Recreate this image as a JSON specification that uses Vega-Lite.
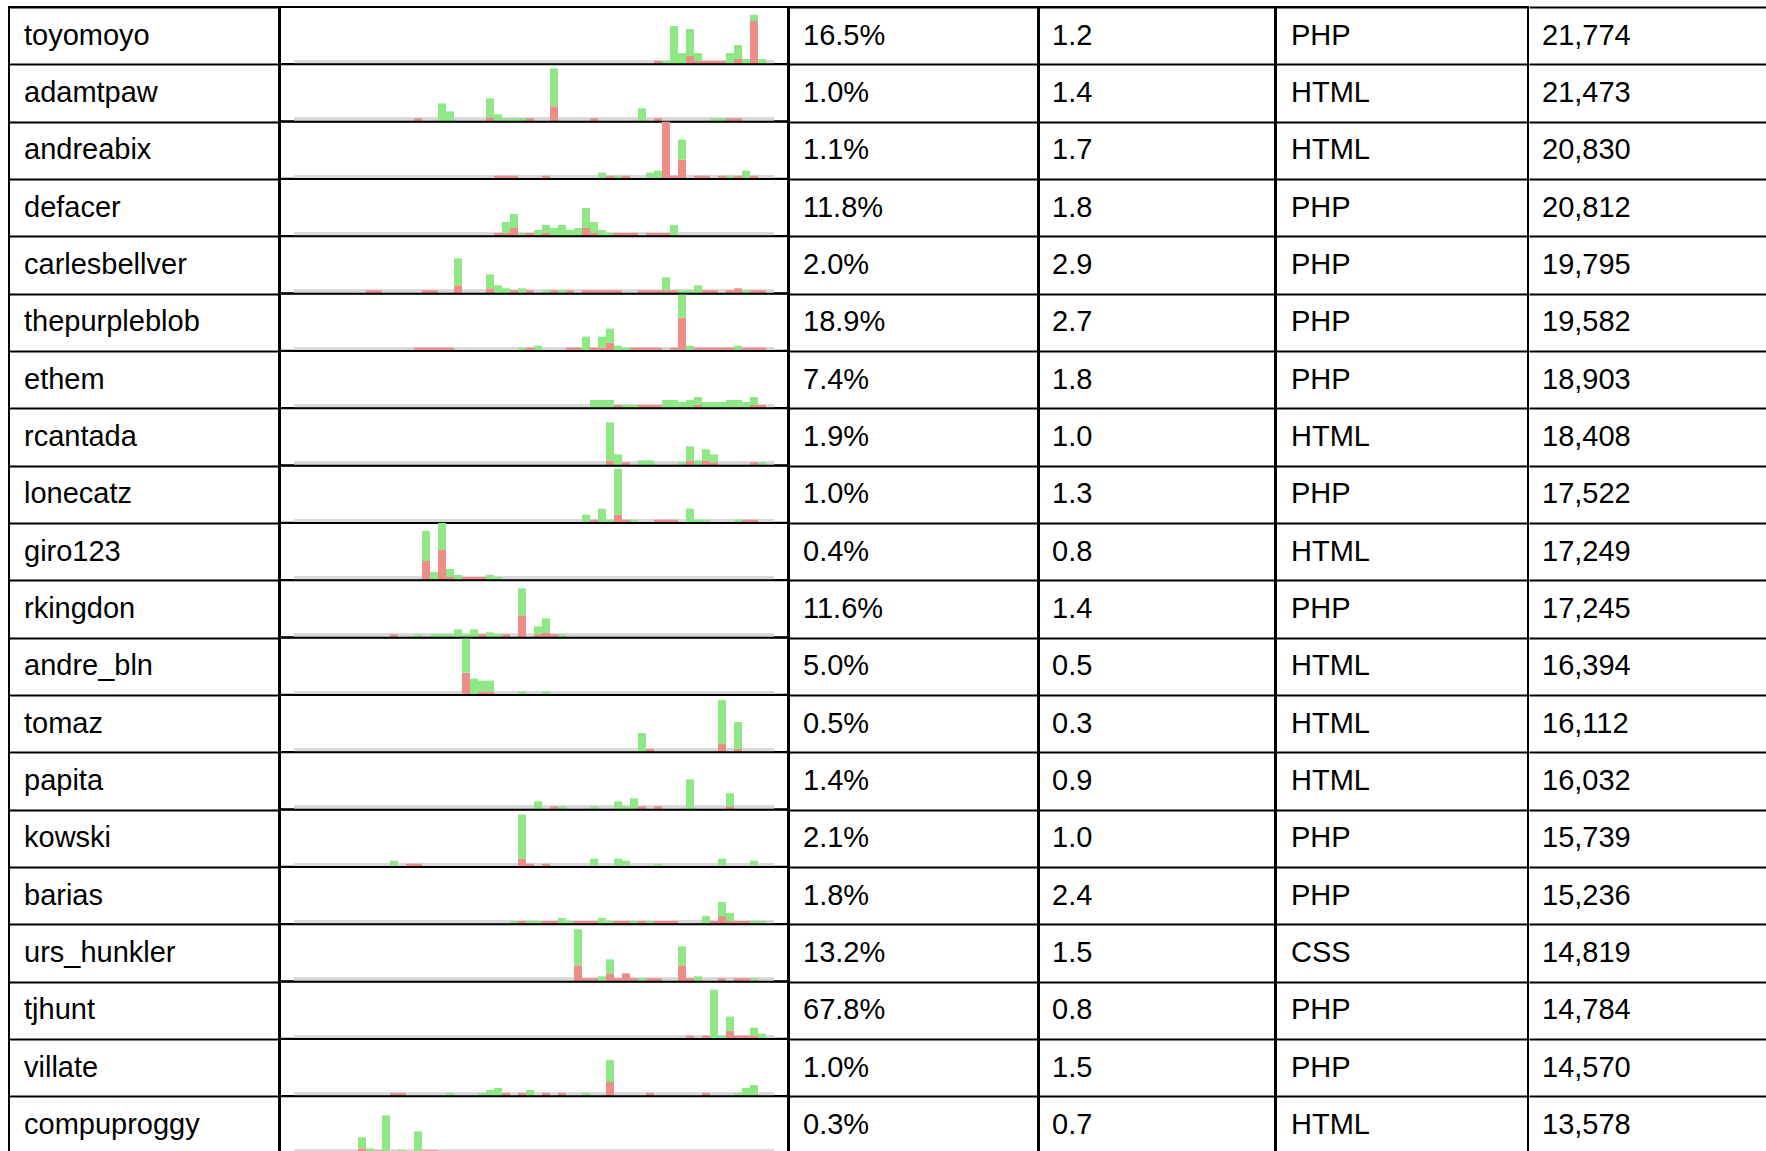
{
"$schema": "https://vega.github.io/schema/vega-lite/v6.json",
"padding": {"left": 8, "top": 6, "right": 0, "bottom": 0},
"background": "white",
"bounds": "full",
"spacing": -2,
"datasets": {
"rows": [
{"name":"toyomoyo","pct":0.165,"rate":1.2,"lang":"PHP","count":21774},
{"name":"adamtpaw","pct":0.010,"rate":1.4,"lang":"HTML","count":21473},
{"name":"andreabix","pct":0.011,"rate":1.7,"lang":"HTML","count":20830},
{"name":"defacer","pct":0.118,"rate":1.8,"lang":"PHP","count":20812},
{"name":"carlesbellver","pct":0.020,"rate":2.9,"lang":"PHP","count":19795},
{"name":"thepurpleblob","pct":0.189,"rate":2.7,"lang":"PHP","count":19582},
{"name":"ethem","pct":0.074,"rate":1.8,"lang":"PHP","count":18903},
{"name":"rcantada","pct":0.019,"rate":1.0,"lang":"HTML","count":18408},
{"name":"lonecatz","pct":0.010,"rate":1.3,"lang":"PHP","count":17522},
{"name":"giro123","pct":0.004,"rate":0.8,"lang":"HTML","count":17249},
{"name":"rkingdon","pct":0.116,"rate":1.4,"lang":"PHP","count":17245},
{"name":"andre_bln","pct":0.050,"rate":0.5,"lang":"HTML","count":16394},
{"name":"tomaz","pct":0.005,"rate":0.3,"lang":"HTML","count":16112},
{"name":"papita","pct":0.014,"rate":0.9,"lang":"HTML","count":16032},
{"name":"kowski","pct":0.021,"rate":1.0,"lang":"PHP","count":15739},
{"name":"barias","pct":0.018,"rate":2.4,"lang":"PHP","count":15236},
{"name":"urs_hunkler","pct":0.132,"rate":1.5,"lang":"CSS","count":14819},
{"name":"tjhunt","pct":0.678,"rate":0.8,"lang":"PHP","count":14784},
{"name":"villate","pct":0.010,"rate":1.5,"lang":"PHP","count":14570},
{"name":"compuproggy","pct":0.003,"rate":0.7,"lang":"HTML","count":13578}
],
"bars": [
{"name":"toyomoyo","bin":45,"series":"failed","value":3},
{"name":"toyomoyo","bin":46,"series":"passed","value":3},
{"name":"toyomoyo","bin":47,"series":"passed","value":38},
{"name":"toyomoyo","bin":48,"series":"passed","value":11},
{"name":"toyomoyo","bin":49,"series":"failed","value":8},
{"name":"toyomoyo","bin":49,"series":"passed","value":27},
{"name":"toyomoyo","bin":50,"series":"failed","value":3},
{"name":"toyomoyo","bin":50,"series":"passed","value":8},
{"name":"toyomoyo","bin":51,"series":"failed","value":3},
{"name":"toyomoyo","bin":52,"series":"failed","value":3},
{"name":"toyomoyo","bin":53,"series":"failed","value":3},
{"name":"toyomoyo","bin":54,"series":"passed","value":11},
{"name":"toyomoyo","bin":55,"series":"failed","value":5},
{"name":"toyomoyo","bin":55,"series":"passed","value":14},
{"name":"toyomoyo","bin":56,"series":"passed","value":5},
{"name":"toyomoyo","bin":57,"series":"failed","value":43},
{"name":"toyomoyo","bin":57,"series":"passed","value":6},
{"name":"toyomoyo","bin":58,"series":"passed","value":5},

{"name":"adamtpaw","bin":15,"series":"failed","value":3},
{"name":"adamtpaw","bin":18,"series":"passed","value":18},
{"name":"adamtpaw","bin":19,"series":"passed","value":10},
{"name":"adamtpaw","bin":24,"series":"failed","value":4},
{"name":"adamtpaw","bin":24,"series":"passed","value":19},
{"name":"adamtpaw","bin":25,"series":"passed","value":7},
{"name":"adamtpaw","bin":26,"series":"passed","value":3},
{"name":"adamtpaw","bin":27,"series":"passed","value":3},
{"name":"adamtpaw","bin":28,"series":"passed","value":3},
{"name":"adamtpaw","bin":29,"series":"failed","value":3},
{"name":"adamtpaw","bin":32,"series":"failed","value":15},
{"name":"adamtpaw","bin":32,"series":"passed","value":38},
{"name":"adamtpaw","bin":37,"series":"failed","value":3},
{"name":"adamtpaw","bin":43,"series":"passed","value":13},
{"name":"adamtpaw","bin":45,"series":"failed","value":3},
{"name":"adamtpaw","bin":52,"series":"passed","value":3},
{"name":"adamtpaw","bin":53,"series":"passed","value":3},
{"name":"adamtpaw","bin":54,"series":"failed","value":3},
{"name":"adamtpaw","bin":55,"series":"failed","value":3},

{"name":"andreabix","bin":25,"series":"failed","value":3},
{"name":"andreabix","bin":26,"series":"failed","value":3},
{"name":"andreabix","bin":27,"series":"failed","value":3},
{"name":"andreabix","bin":31,"series":"failed","value":3},
{"name":"andreabix","bin":38,"series":"passed","value":6},
{"name":"andreabix","bin":39,"series":"failed","value":3},
{"name":"andreabix","bin":40,"series":"passed","value":3},
{"name":"andreabix","bin":41,"series":"failed","value":3},
{"name":"andreabix","bin":44,"series":"passed","value":6},
{"name":"andreabix","bin":45,"series":"passed","value":8},
{"name":"andreabix","bin":46,"series":"failed","value":57},
{"name":"andreabix","bin":47,"series":"failed","value":3},
{"name":"andreabix","bin":48,"series":"failed","value":19},
{"name":"andreabix","bin":48,"series":"passed","value":20},
{"name":"andreabix","bin":50,"series":"failed","value":3},
{"name":"andreabix","bin":51,"series":"failed","value":3},
{"name":"andreabix","bin":53,"series":"failed","value":3},
{"name":"andreabix","bin":54,"series":"passed","value":3},
{"name":"andreabix","bin":55,"series":"failed","value":3},
{"name":"andreabix","bin":56,"series":"passed","value":8},
{"name":"andreabix","bin":57,"series":"failed","value":3},

{"name":"defacer","bin":25,"series":"failed","value":3},
{"name":"defacer","bin":26,"series":"failed","value":3},
{"name":"defacer","bin":26,"series":"passed","value":11},
{"name":"defacer","bin":27,"series":"failed","value":8},
{"name":"defacer","bin":27,"series":"passed","value":14},
{"name":"defacer","bin":28,"series":"passed","value":3},
{"name":"defacer","bin":29,"series":"failed","value":3},
{"name":"defacer","bin":30,"series":"passed","value":6},
{"name":"defacer","bin":31,"series":"failed","value":3},
{"name":"defacer","bin":31,"series":"passed","value":8},
{"name":"defacer","bin":32,"series":"passed","value":8},
{"name":"defacer","bin":33,"series":"passed","value":11},
{"name":"defacer","bin":34,"series":"passed","value":6},
{"name":"defacer","bin":35,"series":"passed","value":8},
{"name":"defacer","bin":36,"series":"failed","value":8},
{"name":"defacer","bin":36,"series":"passed","value":20},
{"name":"defacer","bin":37,"series":"failed","value":3},
{"name":"defacer","bin":37,"series":"passed","value":11},
{"name":"defacer","bin":38,"series":"passed","value":6},
{"name":"defacer","bin":39,"series":"passed","value":3},
{"name":"defacer","bin":40,"series":"failed","value":3},
{"name":"defacer","bin":41,"series":"failed","value":3},
{"name":"defacer","bin":42,"series":"failed","value":3},
{"name":"defacer","bin":44,"series":"failed","value":3},
{"name":"defacer","bin":45,"series":"failed","value":3},
{"name":"defacer","bin":46,"series":"failed","value":3},
{"name":"defacer","bin":47,"series":"passed","value":11},

{"name":"carlesbellver","bin":9,"series":"failed","value":3},
{"name":"carlesbellver","bin":10,"series":"failed","value":3},
{"name":"carlesbellver","bin":16,"series":"failed","value":3},
{"name":"carlesbellver","bin":17,"series":"failed","value":3},
{"name":"carlesbellver","bin":20,"series":"failed","value":8},
{"name":"carlesbellver","bin":20,"series":"passed","value":27},
{"name":"carlesbellver","bin":24,"series":"failed","value":5},
{"name":"carlesbellver","bin":24,"series":"passed","value":14},
{"name":"carlesbellver","bin":25,"series":"passed","value":8},
{"name":"carlesbellver","bin":26,"series":"passed","value":5},
{"name":"carlesbellver","bin":27,"series":"failed","value":3},
{"name":"carlesbellver","bin":28,"series":"passed","value":5},
{"name":"carlesbellver","bin":29,"series":"failed","value":3},
{"name":"carlesbellver","bin":31,"series":"passed","value":3},
{"name":"carlesbellver","bin":32,"series":"failed","value":3},
{"name":"carlesbellver","bin":33,"series":"passed","value":3},
{"name":"carlesbellver","bin":34,"series":"failed","value":3},
{"name":"carlesbellver","bin":36,"series":"failed","value":3},
{"name":"carlesbellver","bin":37,"series":"failed","value":3},
{"name":"carlesbellver","bin":38,"series":"failed","value":3},
{"name":"carlesbellver","bin":39,"series":"failed","value":3},
{"name":"carlesbellver","bin":40,"series":"failed","value":3},
{"name":"carlesbellver","bin":43,"series":"failed","value":3},
{"name":"carlesbellver","bin":44,"series":"failed","value":3},
{"name":"carlesbellver","bin":45,"series":"failed","value":3},
{"name":"carlesbellver","bin":46,"series":"failed","value":3},
{"name":"carlesbellver","bin":46,"series":"passed","value":13},
{"name":"carlesbellver","bin":47,"series":"failed","value":3},
{"name":"carlesbellver","bin":48,"series":"passed","value":3},
{"name":"carlesbellver","bin":49,"series":"passed","value":3},
{"name":"carlesbellver","bin":50,"series":"passed","value":8},
{"name":"carlesbellver","bin":51,"series":"failed","value":3},
{"name":"carlesbellver","bin":52,"series":"failed","value":3},
{"name":"carlesbellver","bin":54,"series":"failed","value":3},
{"name":"carlesbellver","bin":55,"series":"failed","value":5},
{"name":"carlesbellver","bin":56,"series":"passed","value":3},
{"name":"carlesbellver","bin":57,"series":"failed","value":3},
{"name":"carlesbellver","bin":58,"series":"failed","value":3},

{"name":"thepurpleblob","bin":15,"series":"failed","value":3},
{"name":"thepurpleblob","bin":16,"series":"failed","value":3},
{"name":"thepurpleblob","bin":17,"series":"failed","value":3},
{"name":"thepurpleblob","bin":18,"series":"failed","value":3},
{"name":"thepurpleblob","bin":19,"series":"failed","value":3},
{"name":"thepurpleblob","bin":28,"series":"passed","value":3},
{"name":"thepurpleblob","bin":29,"series":"failed","value":3},
{"name":"thepurpleblob","bin":30,"series":"passed","value":5},
{"name":"thepurpleblob","bin":34,"series":"failed","value":3},
{"name":"thepurpleblob","bin":35,"series":"failed","value":3},
{"name":"thepurpleblob","bin":36,"series":"passed","value":14},
{"name":"thepurpleblob","bin":37,"series":"failed","value":3},
{"name":"thepurpleblob","bin":38,"series":"failed","value":3},
{"name":"thepurpleblob","bin":38,"series":"passed","value":11},
{"name":"thepurpleblob","bin":39,"series":"failed","value":8},
{"name":"thepurpleblob","bin":39,"series":"passed","value":14},
{"name":"thepurpleblob","bin":40,"series":"passed","value":5},
{"name":"thepurpleblob","bin":41,"series":"passed","value":3},
{"name":"thepurpleblob","bin":42,"series":"failed","value":3},
{"name":"thepurpleblob","bin":43,"series":"failed","value":3},
{"name":"thepurpleblob","bin":44,"series":"failed","value":3},
{"name":"thepurpleblob","bin":45,"series":"failed","value":3},
{"name":"thepurpleblob","bin":47,"series":"failed","value":3},
{"name":"thepurpleblob","bin":48,"series":"failed","value":33},
{"name":"thepurpleblob","bin":48,"series":"passed","value":23},
{"name":"thepurpleblob","bin":49,"series":"passed","value":5},
{"name":"thepurpleblob","bin":50,"series":"failed","value":3},
{"name":"thepurpleblob","bin":51,"series":"failed","value":3},
{"name":"thepurpleblob","bin":52,"series":"failed","value":3},
{"name":"thepurpleblob","bin":53,"series":"failed","value":3},
{"name":"thepurpleblob","bin":54,"series":"failed","value":3},
{"name":"thepurpleblob","bin":55,"series":"passed","value":5},
{"name":"thepurpleblob","bin":56,"series":"failed","value":3},
{"name":"thepurpleblob","bin":57,"series":"failed","value":3},
{"name":"thepurpleblob","bin":58,"series":"failed","value":3},

{"name":"ethem","bin":37,"series":"passed","value":8},
{"name":"ethem","bin":38,"series":"passed","value":8},
{"name":"ethem","bin":39,"series":"passed","value":8},
{"name":"ethem","bin":40,"series":"failed","value":3},
{"name":"ethem","bin":41,"series":"passed","value":3},
{"name":"ethem","bin":42,"series":"passed","value":3},
{"name":"ethem","bin":43,"series":"failed","value":3},
{"name":"ethem","bin":44,"series":"failed","value":3},
{"name":"ethem","bin":45,"series":"failed","value":3},
{"name":"ethem","bin":46,"series":"passed","value":8},
{"name":"ethem","bin":47,"series":"passed","value":8},
{"name":"ethem","bin":48,"series":"passed","value":6},
{"name":"ethem","bin":49,"series":"passed","value":8},
{"name":"ethem","bin":50,"series":"failed","value":3},
{"name":"ethem","bin":50,"series":"passed","value":8},
{"name":"ethem","bin":51,"series":"passed","value":6},
{"name":"ethem","bin":52,"series":"passed","value":6},
{"name":"ethem","bin":53,"series":"passed","value":6},
{"name":"ethem","bin":54,"series":"passed","value":8},
{"name":"ethem","bin":55,"series":"passed","value":8},
{"name":"ethem","bin":56,"series":"passed","value":6},
{"name":"ethem","bin":57,"series":"failed","value":3},
{"name":"ethem","bin":57,"series":"passed","value":8},
{"name":"ethem","bin":58,"series":"failed","value":3},

{"name":"rcantada","bin":39,"series":"failed","value":5},
{"name":"rcantada","bin":39,"series":"passed","value":38},
{"name":"rcantada","bin":40,"series":"passed","value":11},
{"name":"rcantada","bin":41,"series":"failed","value":3},
{"name":"rcantada","bin":43,"series":"passed","value":5},
{"name":"rcantada","bin":44,"series":"passed","value":5},
{"name":"rcantada","bin":48,"series":"passed","value":3},
{"name":"rcantada","bin":49,"series":"failed","value":5},
{"name":"rcantada","bin":49,"series":"passed","value":14},
{"name":"rcantada","bin":50,"series":"passed","value":5},
{"name":"rcantada","bin":51,"series":"failed","value":5},
{"name":"rcantada","bin":51,"series":"passed","value":11},
{"name":"rcantada","bin":52,"series":"failed","value":3},
{"name":"rcantada","bin":52,"series":"passed","value":8},
{"name":"rcantada","bin":57,"series":"failed","value":3},
{"name":"rcantada","bin":58,"series":"passed","value":3},

{"name":"lonecatz","bin":36,"series":"passed","value":8},
{"name":"lonecatz","bin":37,"series":"failed","value":3},
{"name":"lonecatz","bin":38,"series":"passed","value":14},
{"name":"lonecatz","bin":39,"series":"passed","value":3},
{"name":"lonecatz","bin":40,"series":"failed","value":8},
{"name":"lonecatz","bin":40,"series":"passed","value":46},
{"name":"lonecatz","bin":41,"series":"failed","value":3},
{"name":"lonecatz","bin":42,"series":"passed","value":3},
{"name":"lonecatz","bin":45,"series":"failed","value":3},
{"name":"lonecatz","bin":46,"series":"failed","value":3},
{"name":"lonecatz","bin":47,"series":"failed","value":3},
{"name":"lonecatz","bin":49,"series":"passed","value":14},
{"name":"lonecatz","bin":50,"series":"passed","value":3},
{"name":"lonecatz","bin":51,"series":"passed","value":3},
{"name":"lonecatz","bin":55,"series":"passed","value":3},
{"name":"lonecatz","bin":56,"series":"failed","value":3},
{"name":"lonecatz","bin":57,"series":"failed","value":3},

{"name":"giro123","bin":16,"series":"failed","value":19},
{"name":"giro123","bin":16,"series":"passed","value":30},
{"name":"giro123","bin":17,"series":"passed","value":8},
{"name":"giro123","bin":18,"series":"failed","value":30},
{"name":"giro123","bin":18,"series":"passed","value":27},
{"name":"giro123","bin":19,"series":"failed","value":3},
{"name":"giro123","bin":19,"series":"passed","value":8},
{"name":"giro123","bin":20,"series":"passed","value":5},
{"name":"giro123","bin":21,"series":"failed","value":3},
{"name":"giro123","bin":22,"series":"failed","value":3},
{"name":"giro123","bin":23,"series":"failed","value":3},
{"name":"giro123","bin":24,"series":"passed","value":5},
{"name":"giro123","bin":25,"series":"passed","value":3},

{"name":"rkingdon","bin":12,"series":"failed","value":3},
{"name":"rkingdon","bin":15,"series":"passed","value":3},
{"name":"rkingdon","bin":17,"series":"passed","value":3},
{"name":"rkingdon","bin":18,"series":"passed","value":3},
{"name":"rkingdon","bin":19,"series":"passed","value":3},
{"name":"rkingdon","bin":20,"series":"passed","value":8},
{"name":"rkingdon","bin":21,"series":"passed","value":3},
{"name":"rkingdon","bin":22,"series":"passed","value":8},
{"name":"rkingdon","bin":23,"series":"failed","value":3},
{"name":"rkingdon","bin":24,"series":"passed","value":5},
{"name":"rkingdon","bin":25,"series":"passed","value":3},
{"name":"rkingdon","bin":26,"series":"failed","value":3},
{"name":"rkingdon","bin":28,"series":"failed","value":22},
{"name":"rkingdon","bin":28,"series":"passed","value":27},
{"name":"rkingdon","bin":30,"series":"failed","value":3},
{"name":"rkingdon","bin":30,"series":"passed","value":8},
{"name":"rkingdon","bin":31,"series":"failed","value":5},
{"name":"rkingdon","bin":31,"series":"passed","value":14},
{"name":"rkingdon","bin":32,"series":"failed","value":3},
{"name":"rkingdon","bin":33,"series":"passed","value":3},

{"name":"andre_bln","bin":21,"series":"failed","value":22},
{"name":"andre_bln","bin":21,"series":"passed","value":34},
{"name":"andre_bln","bin":22,"series":"passed","value":16},
{"name":"andre_bln","bin":23,"series":"failed","value":3},
{"name":"andre_bln","bin":23,"series":"passed","value":11},
{"name":"andre_bln","bin":24,"series":"failed","value":3},
{"name":"andre_bln","bin":24,"series":"passed","value":11},
{"name":"andre_bln","bin":28,"series":"passed","value":3},
{"name":"andre_bln","bin":31,"series":"passed","value":3},

{"name":"tomaz","bin":43,"series":"passed","value":19},
{"name":"tomaz","bin":44,"series":"failed","value":3},
{"name":"tomaz","bin":53,"series":"failed","value":8},
{"name":"tomaz","bin":53,"series":"passed","value":44},
{"name":"tomaz","bin":55,"series":"failed","value":3},
{"name":"tomaz","bin":55,"series":"passed","value":27},

{"name":"papita","bin":30,"series":"passed","value":8},
{"name":"papita","bin":32,"series":"failed","value":3},
{"name":"papita","bin":33,"series":"passed","value":3},
{"name":"papita","bin":37,"series":"passed","value":3},
{"name":"papita","bin":40,"series":"passed","value":8},
{"name":"papita","bin":41,"series":"passed","value":3},
{"name":"papita","bin":42,"series":"passed","value":11},
{"name":"papita","bin":43,"series":"failed","value":3},
{"name":"papita","bin":45,"series":"failed","value":3},
{"name":"papita","bin":49,"series":"passed","value":30},
{"name":"papita","bin":54,"series":"failed","value":3},
{"name":"papita","bin":54,"series":"passed","value":13},

{"name":"kowski","bin":12,"series":"passed","value":6},
{"name":"kowski","bin":14,"series":"failed","value":3},
{"name":"kowski","bin":15,"series":"failed","value":3},
{"name":"kowski","bin":28,"series":"failed","value":8},
{"name":"kowski","bin":28,"series":"passed","value":44},
{"name":"kowski","bin":29,"series":"failed","value":3},
{"name":"kowski","bin":31,"series":"failed","value":3},
{"name":"kowski","bin":37,"series":"passed","value":8},
{"name":"kowski","bin":40,"series":"passed","value":8},
{"name":"kowski","bin":41,"series":"passed","value":6},
{"name":"kowski","bin":45,"series":"passed","value":3},
{"name":"kowski","bin":53,"series":"passed","value":8},
{"name":"kowski","bin":57,"series":"passed","value":6},

{"name":"barias","bin":27,"series":"passed","value":3},
{"name":"barias","bin":28,"series":"failed","value":3},
{"name":"barias","bin":29,"series":"passed","value":3},
{"name":"barias","bin":30,"series":"passed","value":3},
{"name":"barias","bin":31,"series":"failed","value":3},
{"name":"barias","bin":32,"series":"failed","value":3},
{"name":"barias","bin":33,"series":"passed","value":6},
{"name":"barias","bin":34,"series":"passed","value":3},
{"name":"barias","bin":35,"series":"failed","value":3},
{"name":"barias","bin":36,"series":"failed","value":3},
{"name":"barias","bin":37,"series":"failed","value":3},
{"name":"barias","bin":38,"series":"passed","value":6},
{"name":"barias","bin":39,"series":"passed","value":3},
{"name":"barias","bin":40,"series":"failed","value":3},
{"name":"barias","bin":41,"series":"failed","value":3},
{"name":"barias","bin":42,"series":"passed","value":3},
{"name":"barias","bin":43,"series":"failed","value":3},
{"name":"barias","bin":44,"series":"passed","value":3},
{"name":"barias","bin":45,"series":"failed","value":3},
{"name":"barias","bin":46,"series":"failed","value":3},
{"name":"barias","bin":47,"series":"failed","value":3},
{"name":"barias","bin":51,"series":"passed","value":8},
{"name":"barias","bin":52,"series":"failed","value":3},
{"name":"barias","bin":53,"series":"failed","value":8},
{"name":"barias","bin":53,"series":"passed","value":14},
{"name":"barias","bin":54,"series":"failed","value":3},
{"name":"barias","bin":54,"series":"passed","value":8},
{"name":"barias","bin":55,"series":"failed","value":3},
{"name":"barias","bin":56,"series":"failed","value":3},
{"name":"barias","bin":57,"series":"passed","value":3},
{"name":"barias","bin":58,"series":"passed","value":3},

{"name":"urs_hunkler","bin":35,"series":"failed","value":16},
{"name":"urs_hunkler","bin":35,"series":"passed","value":36},
{"name":"urs_hunkler","bin":36,"series":"failed","value":3},
{"name":"urs_hunkler","bin":37,"series":"failed","value":3},
{"name":"urs_hunkler","bin":38,"series":"passed","value":5},
{"name":"urs_hunkler","bin":39,"series":"failed","value":8},
{"name":"urs_hunkler","bin":39,"series":"passed","value":14},
{"name":"urs_hunkler","bin":40,"series":"failed","value":3},
{"name":"urs_hunkler","bin":41,"series":"failed","value":8},
{"name":"urs_hunkler","bin":42,"series":"failed","value":3},
{"name":"urs_hunkler","bin":43,"series":"passed","value":3},
{"name":"urs_hunkler","bin":44,"series":"failed","value":3},
{"name":"urs_hunkler","bin":45,"series":"failed","value":3},
{"name":"urs_hunkler","bin":48,"series":"failed","value":16},
{"name":"urs_hunkler","bin":48,"series":"passed","value":19},
{"name":"urs_hunkler","bin":49,"series":"failed","value":3},
{"name":"urs_hunkler","bin":50,"series":"passed","value":5},
{"name":"urs_hunkler","bin":53,"series":"failed","value":3},
{"name":"urs_hunkler","bin":55,"series":"failed","value":3},
{"name":"urs_hunkler","bin":56,"series":"failed","value":3},
{"name":"urs_hunkler","bin":57,"series":"passed","value":3},

{"name":"tjhunt","bin":49,"series":"failed","value":3},
{"name":"tjhunt","bin":51,"series":"failed","value":3},
{"name":"tjhunt","bin":52,"series":"passed","value":49},
{"name":"tjhunt","bin":53,"series":"passed","value":3},
{"name":"tjhunt","bin":54,"series":"failed","value":8},
{"name":"tjhunt","bin":54,"series":"passed","value":14},
{"name":"tjhunt","bin":55,"series":"failed","value":3},
{"name":"tjhunt","bin":56,"series":"failed","value":3},
{"name":"tjhunt","bin":57,"series":"failed","value":3},
{"name":"tjhunt","bin":57,"series":"passed","value":8},
{"name":"tjhunt","bin":58,"series":"passed","value":5},

{"name":"villate","bin":12,"series":"failed","value":3},
{"name":"villate","bin":13,"series":"failed","value":3},
{"name":"villate","bin":19,"series":"passed","value":3},
{"name":"villate","bin":23,"series":"passed","value":3},
{"name":"villate","bin":24,"series":"passed","value":6},
{"name":"villate","bin":25,"series":"passed","value":8},
{"name":"villate","bin":26,"series":"failed","value":3},
{"name":"villate","bin":28,"series":"failed","value":3},
{"name":"villate","bin":29,"series":"passed","value":6},
{"name":"villate","bin":31,"series":"failed","value":3},
{"name":"villate","bin":33,"series":"failed","value":3},
{"name":"villate","bin":36,"series":"passed","value":3},
{"name":"villate","bin":39,"series":"failed","value":14},
{"name":"villate","bin":39,"series":"passed","value":22},
{"name":"villate","bin":44,"series":"failed","value":3},
{"name":"villate","bin":51,"series":"failed","value":3},
{"name":"villate","bin":55,"series":"passed","value":3},
{"name":"villate","bin":56,"series":"passed","value":8},
{"name":"villate","bin":57,"series":"passed","value":11},

{"name":"compuproggy","bin":8,"series":"failed","value":5},
{"name":"compuproggy","bin":8,"series":"passed","value":11},
{"name":"compuproggy","bin":9,"series":"passed","value":5},
{"name":"compuproggy","bin":10,"series":"failed","value":3},
{"name":"compuproggy","bin":11,"series":"passed","value":38},
{"name":"compuproggy","bin":13,"series":"passed","value":3},
{"name":"compuproggy","bin":15,"series":"passed","value":22},
{"name":"compuproggy","bin":16,"series":"failed","value":3},
{"name":"compuproggy","bin":17,"series":"failed","value":3}
]
},
"hconcat": [
{
"width": 270, "height": 1146.67,
"data": {"name": "rows"},
"mark": {"type": "text", "align": "left", "baseline": "middle", "dx": 15, "font": "Liberation Sans", "fontSize": 29, "color": "black"},
"encoding": {
"x": {"datum": 0, "type": "quantitative", "scale": {"domain": [0, 1]}, "axis": null},
"y": {"field": "name", "type": "nominal", "sort": null, "scale": {"type": "band", "paddingInner": 0, "paddingOuter": 0}, "axis": {"title": null, "labels": false, "ticks": false, "domain": false, "grid": true, "gridColor": "black", "gridWidth": 2, "gridOpacity": 1, "tickBand": "extent"}},
"text": {"field": "name", "type": "nominal"}
}
},
{
"data": {"name": "bars"},
"facet": {"row": {"field": "name", "type": "nominal", "title": null, "header": null, "sort": ["toyomoyo","adamtpaw","andreabix","defacer","carlesbellver","thepurpleblob","ethem","rcantada","lonecatz","giro123","rkingdon","andre_bln","tomaz","papita","kowski","barias","urs_hunkler","tjhunt","villate","compuproggy"]}},
"spacing": 0.3333,
"bounds": "flush",
"spec": {
"width": 508, "height": 57,
"layer": [
{
"mark": {"type": "rect", "color": "#d9d9d9"},
"encoding": {
"x": {"datum": -0.5, "type": "quantitative", "axis": null},
"x2": {"datum": 59.5},
"y": {"datum": 0, "type": "quantitative", "axis": null},
"y2": {"datum": 3.5}
}
},
{
"mark": {"type": "bar", "width": 8},
"encoding": {
"x": {"field": "bin", "type": "quantitative", "scale": {"domain": [-2.25, 61.25], "nice": false, "zero": false, "padding": 0}, "axis": null},
"y": {"field": "value", "type": "quantitative", "stack": "zero", "scale": {"domain": [0, 57], "nice": false}, "axis": null},
"color": {"field": "series", "type": "nominal", "scale": {"domain": ["failed", "passed"], "range": ["#ed8c88", "#8de885"]}, "legend": null},
"order": {"field": "series", "type": "ordinal", "sort": "ascending"}
}
}
]
}
},
{
"width": 249, "height": 1146.67,
"data": {"name": "rows"},
"mark": {"type": "text", "align": "left", "baseline": "middle", "dx": 14, "font": "Liberation Sans", "fontSize": 29, "color": "black"},
"encoding": {
"x": {"datum": 0, "type": "quantitative", "scale": {"domain": [0, 1]}, "axis": null},
"y": {"field": "name", "type": "nominal", "sort": null, "scale": {"type": "band", "paddingInner": 0, "paddingOuter": 0}, "axis": {"title": null, "labels": false, "ticks": false, "domain": false, "grid": true, "gridColor": "black", "gridWidth": 2, "gridOpacity": 1, "tickBand": "extent"}},
"text": {"field": "pct", "type": "quantitative", "format": ".1%"}
}
},
{
"width": 236, "height": 1146.67,
"data": {"name": "rows"},
"mark": {"type": "text", "align": "left", "baseline": "middle", "dx": 13, "font": "Liberation Sans", "fontSize": 29, "color": "black"},
"encoding": {
"x": {"datum": 0, "type": "quantitative", "scale": {"domain": [0, 1]}, "axis": null},
"y": {"field": "name", "type": "nominal", "sort": null, "scale": {"type": "band", "paddingInner": 0, "paddingOuter": 0}, "axis": {"title": null, "labels": false, "ticks": false, "domain": false, "grid": true, "gridColor": "black", "gridWidth": 2, "gridOpacity": 1, "tickBand": "extent"}},
"text": {"field": "rate", "type": "quantitative", "format": ".1f"}
}
},
{
"width": 252, "height": 1146.67,
"data": {"name": "rows"},
"mark": {"type": "text", "align": "left", "baseline": "middle", "dx": 15, "font": "Liberation Sans", "fontSize": 29, "color": "black"},
"encoding": {
"x": {"datum": 0, "type": "quantitative", "scale": {"domain": [0, 1]}, "axis": null},
"y": {"field": "name", "type": "nominal", "sort": null, "scale": {"type": "band", "paddingInner": 0, "paddingOuter": 0}, "axis": {"title": null, "labels": false, "ticks": false, "domain": false, "grid": true, "gridColor": "black", "gridWidth": 2, "gridOpacity": 1, "tickBand": "extent"}},
"text": {"field": "lang", "type": "nominal"}
}
},
{
"width": 242, "height": 1146.67,
"data": {"name": "rows"},
"view": {"stroke": null},
"mark": {"type": "text", "align": "left", "baseline": "middle", "dx": 13, "font": "Liberation Sans", "fontSize": 29, "color": "black"},
"encoding": {
"x": {"datum": 0, "type": "quantitative", "scale": {"domain": [0, 1]}, "axis": null},
"y": {"field": "name", "type": "nominal", "sort": null, "scale": {"type": "band", "paddingInner": 0, "paddingOuter": 0}, "axis": {"title": null, "labels": false, "ticks": false, "domain": false, "grid": true, "gridColor": "black", "gridWidth": 2, "gridOpacity": 1, "tickBand": "extent"}},
"text": {"field": "count", "type": "quantitative", "format": ","}
}
}
],
"resolve": {"scale": {"x": "independent", "y": "independent"}},
"config": {"view": {"stroke": "black", "strokeWidth": 2}}
}
